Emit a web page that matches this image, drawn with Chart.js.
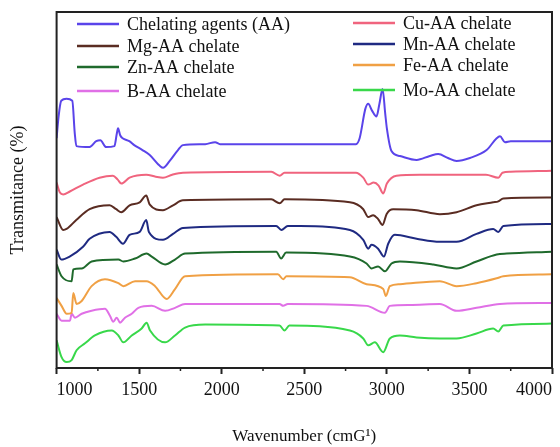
<!DOCTYPE html>
<html lang="en">
<head>
  <meta charset="UTF-8" />
  <title>FTIR spectra</title>
  <script src="https://cdn.jsdelivr.net/npm/chart.js"></script>
  <style>
    body { margin: 0; background: #fff; }
    canvas { display: block; }
  </style>
</head>
<body>
  <canvas id="ftir" width="560" height="447"></canvas>
  <script>
    // wavenumber / transmittance (arbitrary offset units)
    const aaWn = [1000,1012,1028,1060,1095,1110,1120,1200,1240,1265,1300,1350,1365,1372,1385,1400,1440,1470,1520,1564,1625,1645,1685,1735,1765,1900,1960,1990,2200,2500,2813,2835,2870,2887,2910,2937,2955,2974,2990,3000,3028,3079,3180,3260,3311,3370,3422,3503,3604,3665,3685,3715,3750,4000];
    const aaT  = [233,255,271,273,271,238,225,224,230,231,224,225,238,243,236,233,230,226,221,216,205,203,210,221,226,227,229,227,227,227,227,233,263,268,261,255,268,283,258,243,220,215,211,215,217,213,210,213,221,233,235,229,230,230];

    const cuWn = [1000,1020,1040,1080,1160,1260,1341,1370,1392,1442,1543,1600,1644,1700,1765,2300,2351,2380,2813,2857,2887,2920,2950,2978,3000,3058,3200,3600,3675,3700,3750,4000];
    const cuT  = [188,178,176,179,186,193,195,191,187,193,196,194,193,196,198,199,195,198,198,193,186,188,185,177,187,195,196,196,193,198,199,200];

    const mgWn = [1000,1040,1060,1119,1200,1321,1361,1392,1442,1503,1543,1563,1644,1705,1765,2300,2351,2380,2776,2857,2887,2917,2947,2974,2998,3038,3180,3321,3422,3543,3644,3675,3705,4000];
    const mgT  = [153,140,141,150,161,165,161,158,165,168,175,166,160,165,170,171,167,171,168,161,153,155,151,145,156,161,160,156,158,165,168,169,172,173];

    const mnWn = [1000,1028,1079,1160,1200,1321,1361,1402,1442,1503,1543,1559,1644,1705,1765,2330,2361,2400,2473,2776,2857,2887,2907,2947,2982,3008,3048,3180,3321,3422,3543,3644,3675,3705,4000];
    const mnT  = [120,110,113,123,131,138,133,126,135,138,150,138,130,136,142,144,140,144,144,140,130,121,125,121,113,126,135,131,128,128,136,141,138,144,146];

    const znWn = [1000,1030,1091,1101,1152,1212,1374,1404,1475,1545,1576,1657,1717,1778,2330,2360,2390,2776,2877,2907,2947,2988,3028,3079,3281,3422,3543,3665,3725,4000];
    const znT  = [105,93,88,100,101,108,110,108,111,116,113,105,110,116,118,111,117,113,106,101,103,98,106,108,105,101,108,115,116,118];

    const feWn = [1000,1030,1061,1091,1101,1121,1152,1212,1293,1374,1404,1475,1545,1596,1667,1717,1778,2340,2372,2392,2776,2877,2978,2994,3018,3079,3321,3422,3543,3665,3705,4000];
    const feT  = [71,63,55,56,76,65,68,83,90,86,83,88,88,83,70,80,93,95,90,93,92,85,80,73,83,85,88,83,86,91,93,95];

    const bWn = [1000,1030,1081,1091,1111,1152,1212,1293,1323,1343,1364,1384,1414,1455,1495,1576,1657,1717,1778,2350,2372,2400,2877,2988,3018,3139,3321,3422,3543,3685,4000];
    const bT  = [55,48,48,55,51,55,58,60,53,47,51,46,51,55,61,63,58,61,65,65,63,65,63,56,63,64,65,58,61,65,66];

    const moWn = [1000,1030,1061,1091,1121,1172,1232,1334,1374,1404,1455,1515,1545,1566,1657,1717,1778,1900,2350,2380,2410,2776,2857,2887,2927,2978,3018,3079,3180,3321,3422,3543,3644,3675,3705,4000];
    const moT  = [28,11,6,8,18,25,33,38,33,26,33,40,46,38,26,33,41,44,43,38,43,38,30,23,26,16,30,33,31,30,30,35,40,37,43,45];

    const seriesNames = ["Chelating agents (AA)", "Cu-AA chelate", "Mg-AA chelate", "Mn-AA chelate",
                         "Zn-AA chelate", "Fe-AA chelate", "B-AA chelate", "Mo-AA chelate"];
    const seriesColors = ["#5a44ea", "#f0647e", "#5a2c22", "#1f2a82", "#1f6a2c", "#f0a044", "#e070e6", "#38d84a"];
    const xTicks = [1000, 1500, 2000, 2500, 3000, 3500, 4000];

    const wnList = [aaWn, cuWn, mgWn, mnWn, znWn, feWn, bWn, moWn];
    const tList = [aaT, cuT, mgT, mnT, znT, feT, bT, moT];

    const serif = "'Liberation Serif', 'Times New Roman', serif";

    const datasets = seriesNames.map((name, i) => ({
      label: name,
      data: wnList[i].map((w, j) => ({ x: w, y: tList[i][j] })),
      borderColor: seriesColors[i],
      borderWidth: 2,
      pointRadius: 0,
      cubicInterpolationMode: 'monotone',
      fill: false
    }));

    // legend drawn inside the plot, two columns (left: AA, Mg, Zn, B / right: Cu, Mn, Fe, Mo)
    const insideLegend = {
      id: 'insideLegend',
      afterDraw(chart) {
        const ctx = chart.ctx;
        const leftRows = [24, 46, 67, 91];
        const rightRows = [23, 44, 65, 90];
        ctx.save();
        ctx.font = "18px " + serif;
        ctx.textBaseline = 'middle';
        ctx.fillStyle = '#111';
        chart.data.datasets.forEach((ds, i) => {
          const right = i % 2 === 1;
          const row = Math.floor(i / 2);
          const y = right ? rightRows[row] : leftRows[row];
          const x0 = right ? 353 : 77;
          ctx.strokeStyle = ds.borderColor;
          ctx.lineWidth = 2.5;
          ctx.beginPath();
          ctx.moveTo(x0, y);
          ctx.lineTo(x0 + 42, y);
          ctx.stroke();
          ctx.fillText(ds.label, x0 + 50, y + 1);
        });
        ctx.restore();
      }
    };

    // box around the plot + short minor ticks
    const frame = {
      id: 'frame',
      afterDraw(chart) {
        const { ctx, chartArea: a } = chart;
        const xs = chart.scales.x;
        ctx.save();
        ctx.strokeStyle = '#222';
        ctx.lineWidth = 2;
        ctx.strokeRect(a.left, a.top, a.right - a.left, a.bottom - a.top);
        ctx.lineWidth = 1.5;
        for (let v = 1250; v < 4000; v += 500) {
          const px = xs.getPixelForValue(v);
          ctx.beginPath();
          ctx.moveTo(px, a.bottom);
          ctx.lineTo(px, a.bottom + 3);
          ctx.stroke();
        }
        ctx.restore();
      }
    };

    new Chart(document.getElementById('ftir'), {
      type: 'line',
      data: { datasets },
      options: {
        responsive: false,
        devicePixelRatio: 1,
        animation: false,
        layout: { padding: { top: 12, right: 8, left: 0, bottom: 0 } },
        plugins: { legend: { display: false }, tooltip: { enabled: false } },
        scales: {
          x: {
            type: 'linear',
            min: 1000,
            max: 4000,
            afterBuildTicks: scale => { scale.ticks = xTicks.map(v => ({ value: v })); },
            ticks: {
              autoSkip: false,
              maxRotation: 0,
              align: 'inner',
              padding: 5,
              color: '#111',
              font: { family: serif, size: 18 },
              callback: v => String(v)
            },
            grid: { drawOnChartArea: false, tickLength: 6, tickColor: '#222', tickWidth: 2 },
            border: { display: false },
            title: {
              display: true,
              text: 'Wavenumber (cmG\u00B9)',
              color: '#111',
              font: { family: serif, size: 17 },
              padding: { top: 21, bottom: 0 }
            }
          },
          y: {
            min: 0,
            max: 361,
            ticks: { display: false },
            grid: { display: false, drawTicks: false },
            border: { display: false },
            title: {
              display: true,
              text: 'Transmitance (%)',
              color: '#111',
              font: { family: serif, size: 18 },
              padding: { top: 7, bottom: 28 }
            }
          }
        }
      },
      plugins: [insideLegend, frame]
    });
  </script>
</body>
</html>
